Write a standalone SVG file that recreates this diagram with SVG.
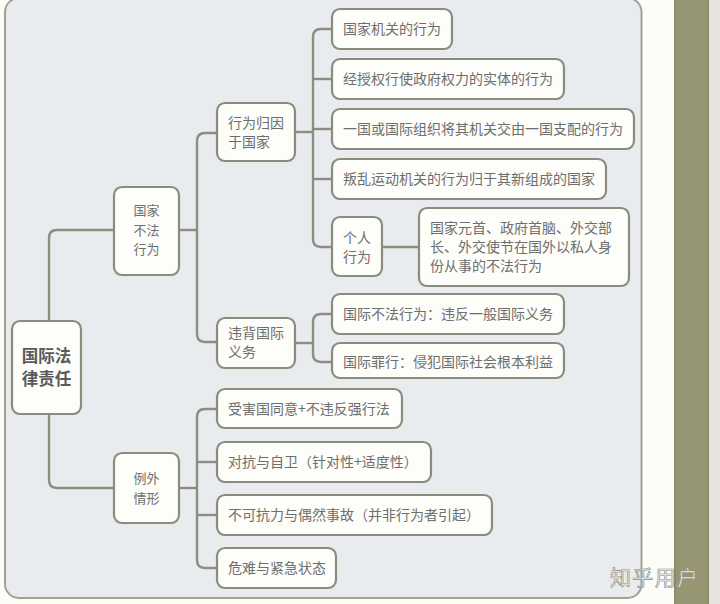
<svg xmlns="http://www.w3.org/2000/svg" width="720" height="604" viewBox="0 0 720 604">
<style>
.node rect{fill:#fdfdf9;stroke:#8b8b7e;stroke-width:2.2}
text{font-family:"Noto Sans CJK SC","Noto Sans",sans-serif;fill:#6e6e6e;font-size:14px}
.root text{font-size:16.5px;font-weight:bold;fill:#5a5a5a}
.mid text{font-size:13px}
#connectors path{fill:none;stroke:#8d8d80;stroke-width:2.4}
</style>
<rect x="0" y="0" width="720" height="604" fill="#fcfcf8"/>
<rect x="674" y="0" width="35" height="604" fill="#979673"/>
<rect x="674" y="0" width="2" height="604" fill="#8c8b6a"/>
<rect x="707" y="0" width="2" height="604" fill="#8c8b6a"/>
<rect x="709" y="0" width="11" height="604" fill="#e4e4dc"/>
<rect x="5" y="-2" width="636.5" height="600" rx="14" fill="#e9ecef" stroke="#a3a290" stroke-width="2"/>

<g id="connectors">
<path d="M49 321 V238 Q49 230 57 230 H114"/>
<path d="M49 414 V480 Q49 488 57 488 H114"/>
<path d="M179 230 H197"/>
<path d="M217 133 H205 Q197 133 197 141 V334 Q197 342 205 342 H217"/>
<path d="M295 132 H313"/>
<path d="M332 29 H321 Q313 29 313 37 V239 Q313 247 321 247 H332"/>
<path d="M313 79 H332"/>
<path d="M313 129 H332"/>
<path d="M313 179 H332"/>
<path d="M382 247 H419"/>
<path d="M295 343 H313"/>
<path d="M332 314 H321 Q313 314 313 322 V354 Q313 362 321 362 H332"/>
<path d="M179 488 H197"/>
<path d="M217 409 H205 Q197 409 197 417 V560 Q197 568 205 568 H217"/>
<path d="M197 462 H217"/>
<path d="M197 515 H217"/>
</g>

<g id="root" class="node root">
<rect x="12" y="321" width="69" height="93" rx="8"/>
<text x="46.5" y="362" text-anchor="middle">国际法</text>
<text x="46.5" y="385" text-anchor="middle">律责任</text>
</g>

<g id="n-state" class="node mid">
<rect x="114" y="187" width="65" height="88" rx="8"/>
<text x="146.5" y="215" text-anchor="middle">国家</text>
<text x="146.5" y="234.5" text-anchor="middle">不法</text>
<text x="146.5" y="254" text-anchor="middle">行为</text>
</g>

<g id="n-attr" class="node">
<rect x="217" y="103" width="78" height="58" rx="8"/>
<text x="228" y="128">行为归因</text>
<text x="228" y="147">于国家</text>
</g>

<g id="n-a1" class="node">
<rect x="332" y="9" width="120" height="40" rx="8"/>
<text x="343" y="34">国家机关的行为</text>
</g>
<g id="n-a2" class="node">
<rect x="332" y="59" width="232" height="40" rx="8"/>
<text x="343" y="84">经授权行使政府权力的实体的行为</text>
</g>
<g id="n-a3" class="node">
<rect x="332" y="109" width="302" height="40" rx="8"/>
<text x="343" y="134" textLength="280" lengthAdjust="spacingAndGlyphs">一国或国际组织将其机关交由一国支配的行为</text>
</g>
<g id="n-a4" class="node">
<rect x="332" y="159" width="274" height="40" rx="8"/>
<text x="343" y="184">叛乱运动机关的行为归于其新组成的国家</text>
</g>
<g id="n-a5" class="node">
<rect x="332" y="217" width="50" height="59" rx="8"/>
<text x="343" y="243">个人</text>
<text x="343" y="262">行为</text>
</g>
<g id="n-a5a" class="node">
<rect x="419" y="208" width="210" height="78" rx="8"/>
<text x="430" y="233">国家元首、政府首脑、外交部</text>
<text x="430" y="252">长、外交使节在国外以私人身</text>
<text x="430" y="271">份从事的不法行为</text>
</g>

<g id="n-breach" class="node">
<rect x="217" y="318" width="78" height="50" rx="8"/>
<text x="228" y="338">违背国际</text>
<text x="228" y="357">义务</text>
</g>
<g id="n-b1" class="node">
<rect x="332" y="294" width="232" height="40" rx="8"/>
<text x="343" y="319">国际不法行为：违反一般国际义务</text>
</g>
<g id="n-b2" class="node">
<rect x="332" y="343" width="232" height="35" rx="8"/>
<text x="343" y="367">国际罪行：侵犯国际社会根本利益</text>
</g>

<g id="n-exc" class="node mid">
<rect x="114" y="453" width="65" height="70" rx="8"/>
<text x="146.5" y="483" text-anchor="middle">例外</text>
<text x="146.5" y="502.5" text-anchor="middle">情形</text>
</g>
<g id="n-e1" class="node">
<rect x="217" y="389" width="185" height="39" rx="8"/>
<text x="228" y="414">受害国同意+不违反强行法</text>
</g>
<g id="n-e2" class="node">
<rect x="217" y="442" width="214" height="40" rx="8"/>
<text x="228" y="467">对抗与自卫（针对性+适度性）</text>
</g>
<g id="n-e3" class="node">
<rect x="217" y="495" width="275" height="40" rx="8"/>
<text x="228" y="520">不可抗力与偶然事故（并非行为者引起）</text>
</g>
<g id="n-e4" class="node">
<rect x="217" y="548" width="119" height="40" rx="8"/>
<text x="228" y="573">危难与紧急状态</text>
</g>

<text x="610" y="585" style="font-size:21px;fill:#f6f6f6;stroke:#8e8e86;stroke-width:0.7" textLength="88">知乎用户</text>
</svg>
